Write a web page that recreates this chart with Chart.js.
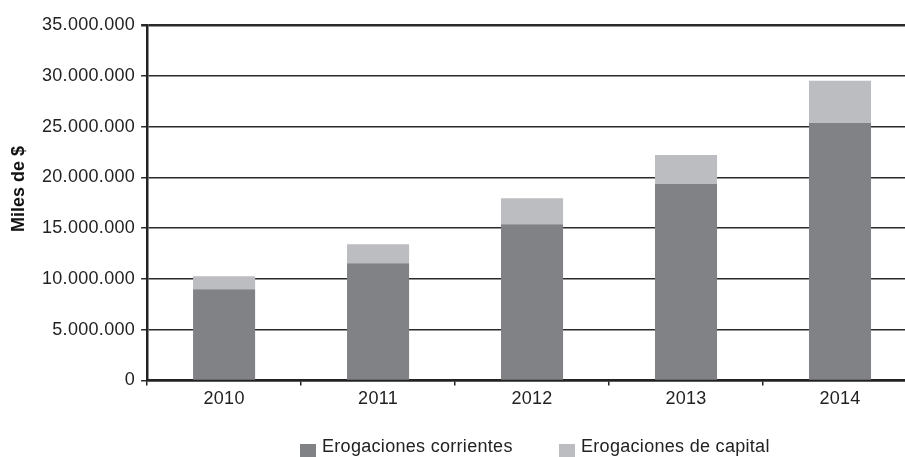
<!DOCTYPE html>
<html>
<head>
<meta charset="utf-8">
<script src="https://cdn.jsdelivr.net/npm/chart.js@4/dist/chart.umd.min.js"></script>
<style>
  html, body { margin: 0; padding: 0; background: #fff; overflow: hidden; }
  #wrap { position: relative; width: 905px; height: 457px; overflow: hidden; }
  #c { position: absolute; left: 0; top: 0; }
  .leg { position: absolute; top: 437px; font-family: 'Liberation Sans', Arial, sans-serif; font-size: 18px; line-height: 18px; color: #222; letter-spacing: 0.3px; white-space: nowrap; }
  .box { position: absolute; top: 444px; width: 16px; height: 16px; }
  #ytitle { position: absolute; left: 18px; top: 189px; transform: translate(-50%, -50%) rotate(-90deg); font-family: 'Liberation Sans', Arial, sans-serif; font-size: 18px; font-weight: bold; color: #111; white-space: nowrap; line-height: 18px; }
</style>
</head>
<body>
<div id="wrap">
  <canvas id="c" width="920" height="457"></canvas>
  <div id="ytitle"></div>
  <div class="box" id="b1" style="left:300px;"></div>
  <div class="leg" id="l1" style="left:322px;"></div>
  <div class="box" id="b2" style="left:559px;"></div>
  <div class="leg" id="l2" style="left:581px;"></div>
</div>
<script>
const years = ['2010', '2011', '2012', '2013', '2014'];
const corrientes = [8970000, 11540000, 15380000, 19330000, 25350000];
const capital = [1290000, 1860000, 2570000, 2860000, 4150000];
const seriesNames = ['Erogaciones corrientes', 'Erogaciones de capital'];
const seriesColors = ['#818285', '#bcbdc0'];
const axisTitle = 'Miles de $';

document.getElementById('b1').style.background = seriesColors[0];
document.getElementById('b2').style.background = seriesColors[1];
document.getElementById('l1').textContent = seriesNames[0];
document.getElementById('l2').textContent = seriesNames[1];
document.getElementById('ytitle').textContent = axisTitle;

const spacing = {
  id: 'spacing',
  beforeUpdate(chart) { chart.ctx.letterSpacing = '0.3px'; },
  beforeLayout(chart) { chart.ctx.letterSpacing = '0.3px'; },
  beforeDraw(chart) { chart.ctx.letterSpacing = '0.3px'; }
};

function fmt(v) {
  return String(v).replace(/\B(?=(\d{3})+(?!\d))/g, '.');
}

new Chart(document.getElementById('c'), {
  type: 'bar',
  data: {
    labels: years,
    datasets: [
      { label: seriesNames[0], data: corrientes, backgroundColor: seriesColors[0], borderWidth: 0 },
      { label: seriesNames[1], data: capital, backgroundColor: seriesColors[1], borderWidth: 0 }
    ]
  },
  plugins: [spacing],
  options: {
    responsive: false,
    animation: false,
    devicePixelRatio: 1,
    categoryPercentage: 1,
    barPercentage: 0.403,
    layout: { padding: { left: 36, right: 3, top: 25, bottom: 44 } },
    plugins: { legend: { display: false }, tooltip: { enabled: false } },
    scales: {
      x: {
        stacked: true,
        offset: true,
        grid: { display: true, drawOnChartArea: false, drawTicks: true, tickLength: 5, offset: true, color: '#222', lineWidth: 1.5 },
        border: { display: true, color: '#222', width: 2.5 },
        ticks: { color: '#222', padding: 3, font: { family: "'Liberation Sans', Arial, sans-serif", size: 18 } }
      },
      y: {
        stacked: true,
        min: 0,
        max: 35000000,
        grid: {
          color: '#2a2a2a',
          lineWidth: (ctx) => (ctx.index === 7 ? 2.5 : 1.5),
          drawTicks: true,
          tickLength: 6
        },
        border: { display: true, color: '#222', width: 2.5 },
        ticks: {
          stepSize: 5000000,
          color: '#222',
          padding: 6,
          font: { family: "'Liberation Sans', Arial, sans-serif", size: 18 },
          callback: (v) => fmt(v)
        }
      }
    }
  }
});
</script>
</body>
</html>
